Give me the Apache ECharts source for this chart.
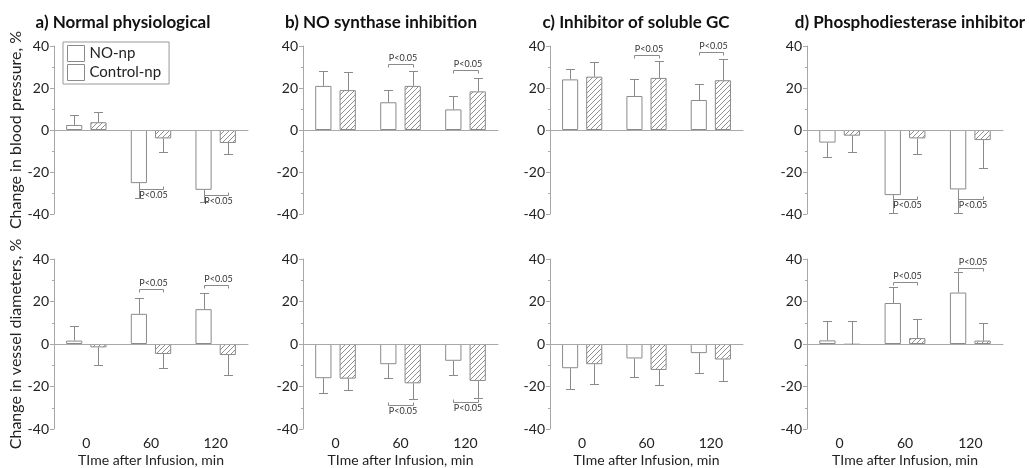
<!DOCTYPE html>
<html>
<head>
<meta charset="utf-8">
<script src="https://cdn.jsdelivr.net/npm/echarts@6/dist/echarts.min.js"></script>
<style>
html, body { margin: 0; padding: 0; background: #fff; }
#chart { width: 1029px; height: 468px; }
</style>
</head>
<body>
<div id="chart"></div>
<script>
const times = ['0', '60', '120']
const panelTitles = ['a) Normal physiological', 'b) NO synthase inhibition', 'c) Inhibitor of soluble GC', 'd) Phosphodiesterase inhibitor']

// change in blood pressure, % (one row per panel a-d)
const bpNO = [[2.4, -25.3, -28.5], [21, 13.2, 9.8], [24.1, 16.2, 14.3], [-6, -31, -28.3]]
const bpNOErr = [[7.2, -32.2, -34.4], [27.9, 18.9, 16.2], [28.9, 24.1, 21.9], [-12.7, -39.7, -39.4]]
const bpCtrl = [[3.7, -4, -6.2], [19, 21, 18.4], [25.4, 24.8, 23.7], [-2.7, -4, -4.8]]
const bpCtrlErr = [[8.5, -10.3, -11.5], [27.5, 27.9, 25], [32.4, 32.9, 33.7], [-10.3, -11.6, -17.9]]

// change in vessel diameters, %
const vdNO = [[1.6, 14.2, 16.4], [-16.1, -9.5, -7.9], [-11.4, -6.8, -4.3], [1.7, 19.3, 24.2]]
const vdNOErr = [[8.4, 21.7, 24.2], [-22.9, -15.8, -14.7], [-21.3, -15.3, -13.8], [10.8, 26.6, 33.7]]
const vdCtrl = [[-1.6, -4.7, -5.2], [-16.3, -18.5, -17.4], [-9.5, -12.2, -7.3], [-0.3, 2.8, 1.6]]
const vdCtrlErr = [[-10, -11.5, -14.7], [-21.8, -26.1, -25.3], [-19, -19.4, -17.4], [10.8, 11.7, 10.1]]

// P<0.05 brackets: [time index, level]
const bpSig = [[[1, -28], [2, -31]], [[1, 31.3], [2, 28.6]], [[1, 35.6], [2, 37]], [[1, -33], [2, -33]]]
const vdSig = [[[1, 25.9], [2, 27.8]], [[1, -28.5], [2, -27.2]], [], [[1, 29.2], [2, 36]]]

const yNames = ['Change in blood pressure, %', 'Change in vessel diameters, %']

let chart = echarts.init(document.getElementById('chart'))

// layout of the 2x4 panels
const cols = [[54, 194], [303, 195], [550, 193], [807, 196]]
const rows = [[46, 168], [259, 170]]
const titleX = [123, 381, 636, 910]

const FONT = 'Lato'
const GREY = '#8a8a8a'
const AXIS = '#a8a8a8'
const OFF = 0.1875 // bar centre offset as share of the category band

function hatch() {
  let c = document.createElement('canvas')
  c.width = c.height = 5
  let g = c.getContext('2d')
  g.fillStyle = '#fff'
  g.fillRect(0, 0, 5, 5)
  g.strokeStyle = '#909090'
  g.lineWidth = 1
  g.beginPath()
  g.moveTo(0, 5); g.lineTo(5, 0)
  g.moveTo(-1, 1); g.lineTo(1, -1)
  g.moveTo(4, 6); g.lineTo(6, 4)
  g.stroke()
  return c
}
const hatchFill = { image: hatch(), repeat: 'repeat' }

function errRender(sign) {
  return function (params, api) {
    let band = api.size([1, 0])[0]
    let p0 = api.coord([api.value(0), api.value(1)])
    let p1 = api.coord([api.value(0), api.value(2)])
    let x = Math.round(p0[0] + sign * OFF * band) + 0.5
    let y1 = Math.round(p1[1]) + 0.5
    return {
      type: 'group',
      children: [
        { type: 'line', shape: { x1: x, y1: p0[1], x2: x, y2: y1 }, style: { stroke: GREY, lineWidth: 1 } },
        { type: 'line', shape: { x1: x - 4.5, y1: y1, x2: x + 4.5, y2: y1 }, style: { stroke: GREY, lineWidth: 1 } }
      ]
    }
  }
}

function sigRender(params, api) {
  let band = api.size([1, 0])[0]
  let p = api.coord([api.value(0), api.value(1)])
  let z = api.coord([api.value(0), 0])
  let dir = p[1] > z[1] ? -1 : 1 // ticks point to the bars
  let x1 = Math.round(p[0] - OFF * band) + 0.5
  let x2 = Math.round(p[0] + OFF * band) + 0.5
  let y = Math.round(p[1]) + 0.5
  return {
    type: 'group',
    children: [
      { type: 'polyline', shape: { points: [[x1, y + dir * 3], [x1, y], [x2, y], [x2, y + dir * 3]] },
        style: { stroke: GREY, lineWidth: 1, fill: null } },
      { type: 'text', x: (x1 + x2) / 2 + 2, y: y - dir * 6,
        style: { text: 'P<0.05', fontFamily: FONT, fontSize: 9, fill: '#333', align: 'center', verticalAlign: 'middle' } }
    ]
  }
}

let grids = [], xAxes = [], yAxes = [], series = [], graphics = []

for (let r = 0; r < 2; r++) {
  let NO = r === 0 ? bpNO : vdNO
  let NOErr = r === 0 ? bpNOErr : vdNOErr
  let Ctrl = r === 0 ? bpCtrl : vdCtrl
  let CtrlErr = r === 0 ? bpCtrlErr : vdCtrlErr
  let Sig = r === 0 ? bpSig : vdSig
  for (let c = 0; c < 4; c++) {
    let idx = r * 4 + c
    grids.push({ left: cols[c][0], top: rows[r][0], width: cols[c][1], height: rows[r][1], outerBoundsMode: 'none' })
    xAxes.push({
      gridIndex: idx, type: 'category', data: times,
      axisLine: { lineStyle: { color: AXIS } },
      axisTick: { alignWithLabel: true, length: 4, lineStyle: { color: AXIS } },
      axisLabel: { show: r === 1, fontFamily: FONT, fontSize: 14, color: '#222', margin: 7 },
      name: r === 1 ? 'TIme after Infusion, min' : '',
      nameLocation: 'middle', nameGap: 24,
      nameTextStyle: { fontFamily: FONT, fontSize: 14, color: '#222' }
    })
    yAxes.push({
      gridIndex: idx, type: 'value', min: -40, max: 40, interval: 20,
      axisLine: { show: true, lineStyle: { color: AXIS } },
      axisTick: { show: true, length: 4, lineStyle: { color: AXIS } },
      minorTick: { show: true, splitNumber: 2, length: 2, lineStyle: { color: AXIS } },
      splitLine: { show: false },
      axisLabel: { fontFamily: FONT, fontSize: 14, color: '#222', margin: 5 },
      name: c === 0 ? yNames[r] : '',
      nameLocation: 'middle', nameGap: 27,
      nameTextStyle: { fontFamily: FONT, fontSize: 16, color: '#222' }
    })
    series.push({
      type: 'bar', name: 'NO-np', xAxisIndex: idx, yAxisIndex: idx,
      data: NO[c], barWidth: '25%', barGap: '50%', silent: true,
      itemStyle: { color: '#fff', borderColor: GREY, borderWidth: 1 },
      markLine: {
        silent: true, symbol: ['none', 'none'], label: { show: false },
        lineStyle: { color: AXIS, type: 'solid', width: 1 },
        data: [{ yAxis: 0 }]
      }
    })
    series.push({
      type: 'bar', name: 'Control-np', xAxisIndex: idx, yAxisIndex: idx,
      data: Ctrl[c], barWidth: '25%', barGap: '50%', silent: true,
      itemStyle: { color: hatchFill, borderColor: GREY, borderWidth: 1 }
    })
    series.push({
      type: 'custom', xAxisIndex: idx, yAxisIndex: idx, silent: true, z: 5,
      renderItem: errRender(-1),
      data: NO[c].map((v, i) => [i, v, NOErr[c][i]])
    })
    series.push({
      type: 'custom', xAxisIndex: idx, yAxisIndex: idx, silent: true, z: 5,
      renderItem: errRender(1),
      data: Ctrl[c].map((v, i) => [i, v, CtrlErr[c][i]])
    })
    if (Sig[c].length) {
      series.push({
        type: 'custom', xAxisIndex: idx, yAxisIndex: idx, silent: true, z: 6,
        renderItem: sigRender,
        data: Sig[c]
      })
    }
  }
}

panelTitles.forEach((t, i) => {
  graphics.push({
    type: 'text', x: titleX[i], y: 23,
    style: { text: t, fontFamily: FONT, fontWeight: 'bold', fontSize: 17, fill: '#111',
      align: 'center', verticalAlign: 'middle', textAlign: 'center', textVerticalAlign: 'middle' }
  })
})

let option = {
  animation: false,
  backgroundColor: '#fff',
  textStyle: { fontFamily: FONT },
  legend: {
    orient: 'vertical', left: 63, top: 42,
    padding: [3, 8, 3, 4], itemGap: 2, itemWidth: 17, itemHeight: 16,
    borderColor: '#999', borderWidth: 1,
    textStyle: { fontFamily: FONT, fontSize: 15, color: '#222' },
    data: [
      { name: 'NO-np', icon: 'rect', itemStyle: { color: '#fff', borderColor: GREY, borderWidth: 1 } },
      { name: 'Control-np', icon: 'rect', itemStyle: { color: '#fff', borderColor: GREY, borderWidth: 1 } }
    ]
  },
  grid: grids,
  xAxis: xAxes,
  yAxis: yAxes,
  graphic: graphics,
  series: series
}

option && chart.setOption(option)
</script>
</body>
</html>
